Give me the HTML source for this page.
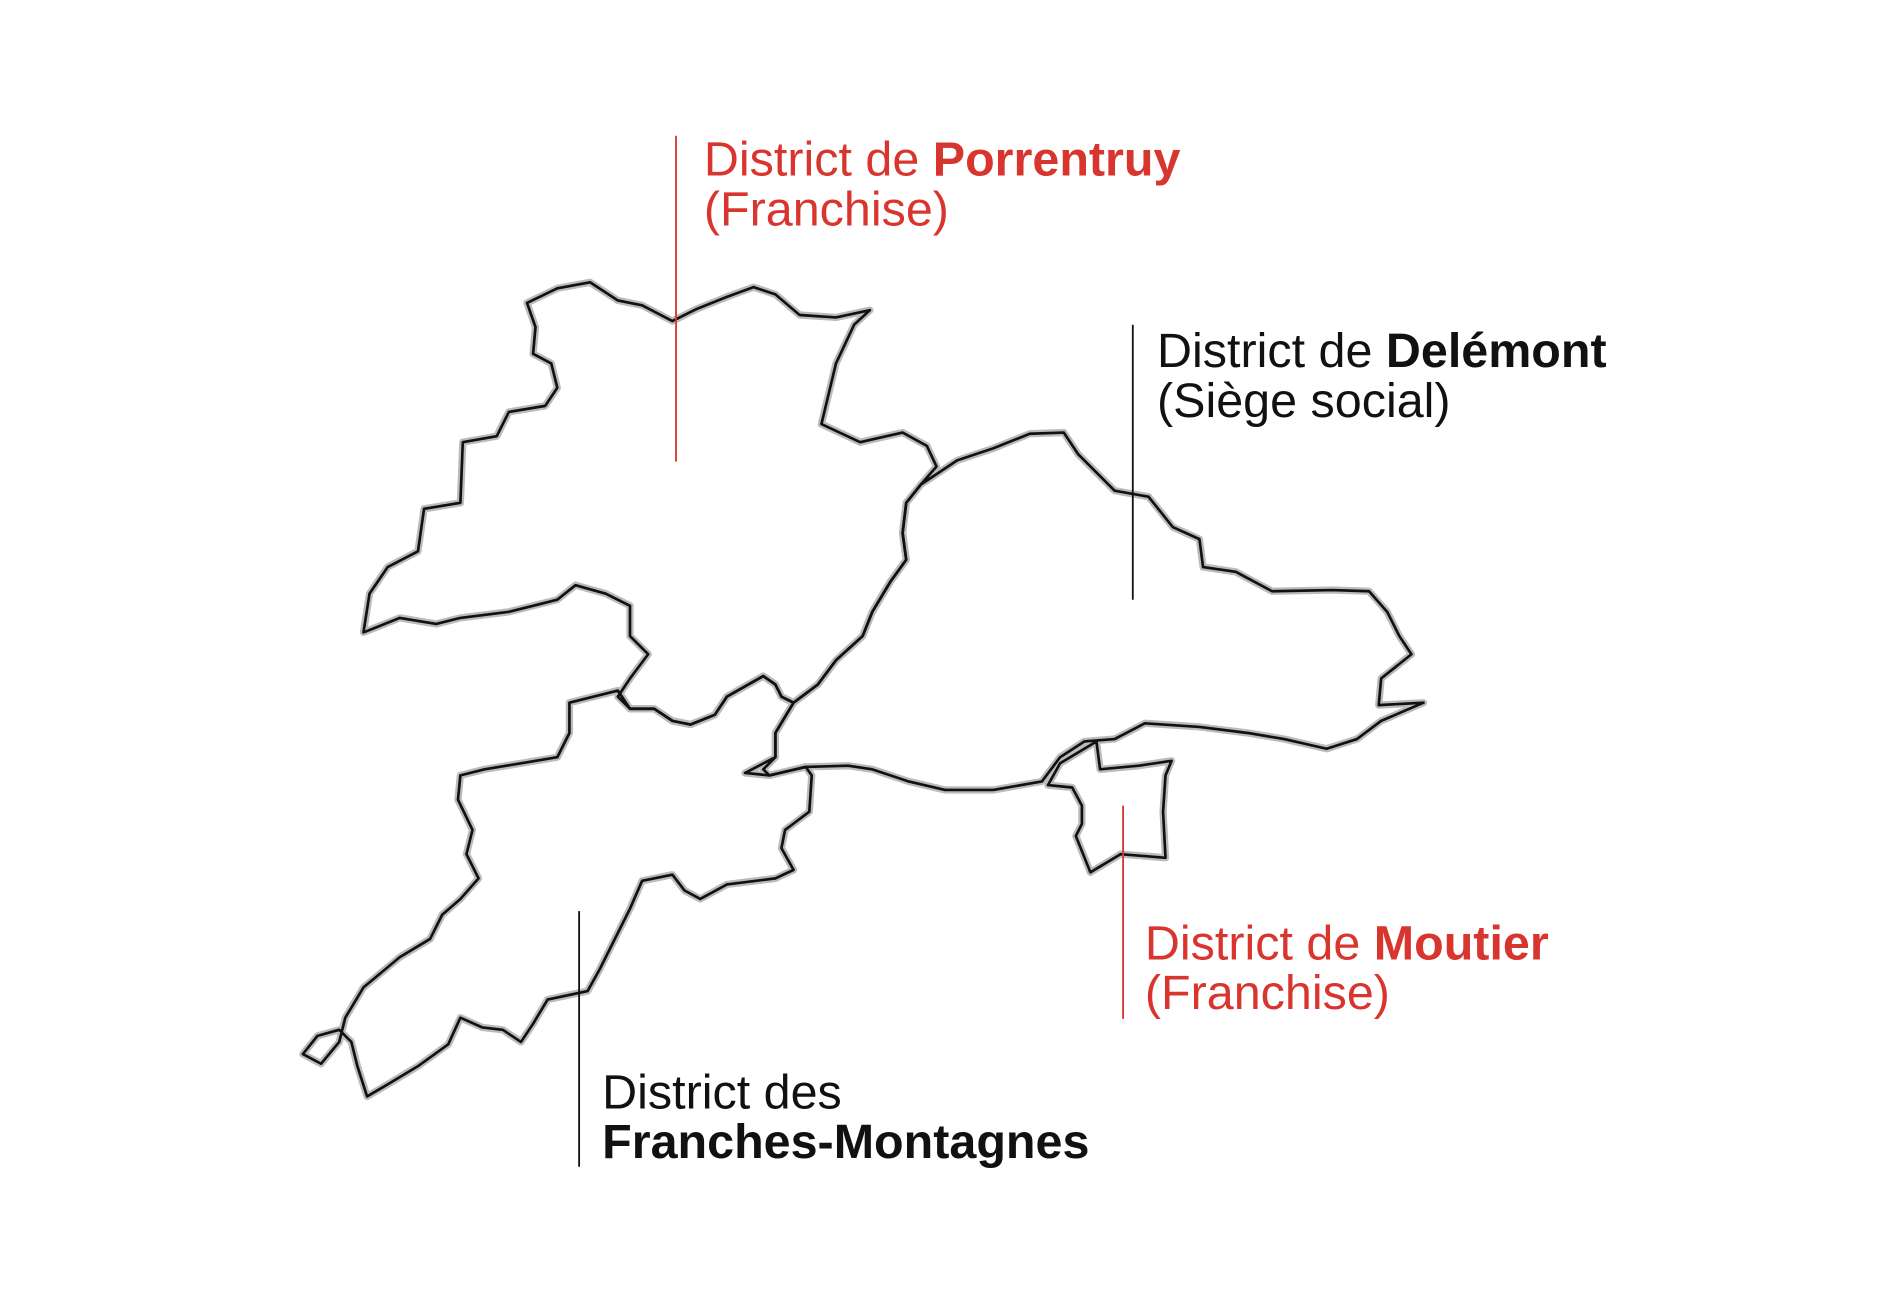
<!DOCTYPE html>
<html><head><meta charset="utf-8"><style>
html,body{margin:0;padding:0;background:#fff;width:1890px;height:1300px;overflow:hidden}
svg{display:block}
text{font-family:"Liberation Sans",sans-serif;font-size:40px}
.r{fill:#d9352f}
.k{fill:#111}
b{font-weight:bold}
</style></head><body>
<svg width="1890" height="1300" viewBox="0 0 1560 1073" xmlns="http://www.w3.org/2000/svg">
<defs>
<g id="map">
<path d="M435,250 L460,238 L487,233 L510,248 L530,252 L555,265 L575,255 L600,245 L622,237 L640,243 L660,260 L690,262 L718,256 L705,268 L690,300 L678,350 L710,365 L745,357 L765,368 L773,385 L760,400 L748,415 L745,440 L748,462 L735,480 L720,505 L712,525 L690,545 L675,565 L655,580 L645,575 L640,565 L630,558 L600,575 L590,590 L570,598 L555,595 L540,585 L520,585 L510,575 L520,560 L535,540 L520,525 L520,500 L500,490 L475,483 L460,495 L440,500 L420,505 L380,510 L360,515 L330,510 L300,522 L305,490 L320,468 L345,455 L350,420 L380,415 L382,365 L410,360 L420,340 L450,335 L460,320 L455,300 L440,292 L442,270 Z"/>
<path d="M760,400 L790,380 L820,370 L850,358 L878,357 L890,375 L920,405 L948,410 L968,435 L990,445 L993,468 L1020,472 L1050,488 L1100,487 L1130,488 L1145,505 L1155,525 L1165,540 L1140,560 L1138,582 L1175,580 L1140,595 L1120,610 L1095,618 L1060,610 L1030,605 L990,600 L945,597 L920,610 L895,612 L875,625 L860,645 L820,652 L780,652 L750,645 L720,635 L700,632 L665,633 L635,640 L630,635 L640,625 L640,605 L655,580 L675,565 L690,545 L712,525 L720,505 L735,480 L748,462 L745,440 L748,415 Z"/>
<path d="M905,612 L875,630 L865,648 L885,650 L893,665 L893,680 L888,690 L900,720 L925,705 L962,708 L960,670 L962,640 L967,628 L940,632 L908,635 Z"/>
<path d="M470,580 L510,570 L520,585 L540,585 L555,595 L570,598 L590,590 L600,575 L630,558 L640,565 L645,575 L655,580 L640,605 L640,625 L615,638 L635,640 L665,633 L670,640 L668,670 L648,685 L645,700 L655,718 L640,725 L600,730 L578,742 L565,735 L555,722 L530,727 L520,750 L510,770 L495,800 L485,818 L452,825 L440,845 L430,860 L415,850 L398,848 L380,840 L370,862 L345,880 L320,895 L303,905 L295,880 L290,860 L280,850 L262,855 L250,870 L265,878 L280,860 L285,840 L300,815 L330,790 L355,775 L365,755 L380,742 L395,725 L385,705 L390,685 L378,660 L380,640 L400,635 L430,630 L460,625 L470,605 Z"/>
</g>
</defs>
<use href="#map" fill="none" stroke="#bbb" stroke-width="6" stroke-linejoin="round"/>
<use href="#map" fill="none" stroke="#111" stroke-width="2.2" stroke-linejoin="round"/>
<line x1="558" y1="112" x2="558" y2="381" stroke="#d9352f" stroke-width="1.5"/>
<line x1="935" y1="268" x2="935" y2="495" stroke="#111" stroke-width="1.5"/>
<line x1="927" y1="665" x2="927" y2="841" stroke="#d9352f" stroke-width="1.5"/>
<line x1="478" y1="752" x2="478" y2="963" stroke="#111" stroke-width="1.5"/>
<text class="r" x="581" y="145">District de <tspan font-weight="bold">Porrentruy</tspan></text>
<text class="r" x="581" y="186">(Franchise)</text>
<text class="k" x="955" y="303">District de <tspan font-weight="bold">Delémont</tspan></text>
<text class="k" x="955" y="344">(Siège social)</text>
<text class="r" x="945" y="792">District de <tspan font-weight="bold">Moutier</tspan></text>
<text class="r" x="945" y="833">(Franchise)</text>
<text class="k" x="497" y="915">District des</text>
<text class="k" x="497" y="956" font-weight="bold">Franches-Montagnes</text>
</svg>
</body></html>
